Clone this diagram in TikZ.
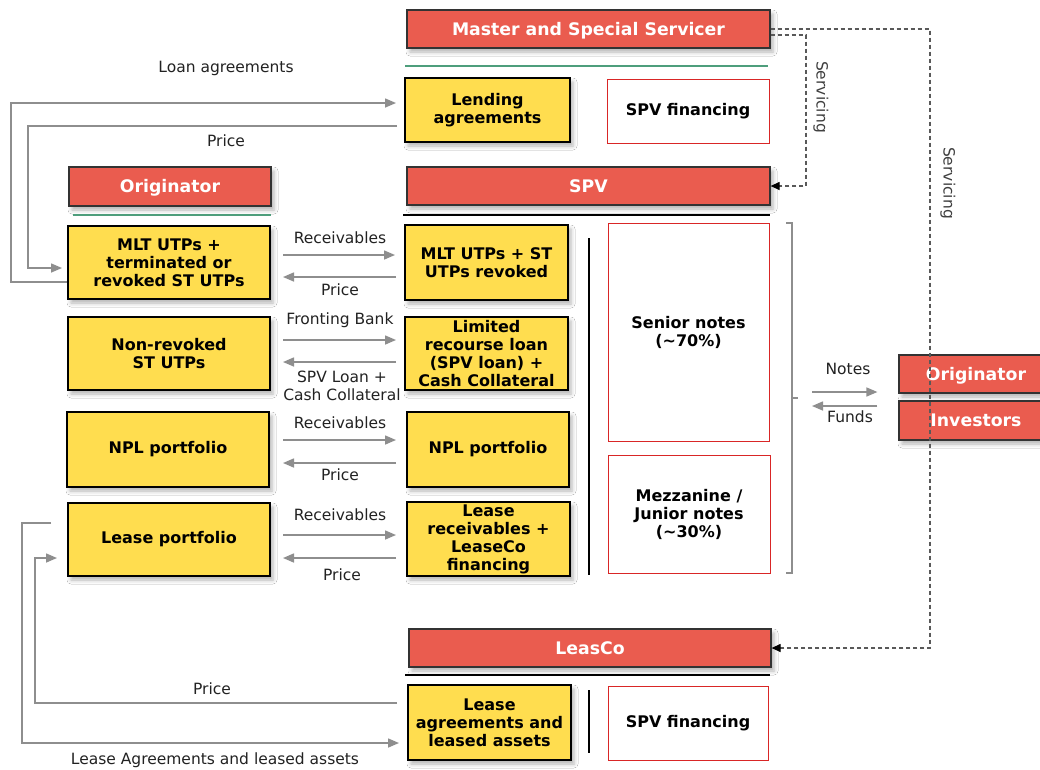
\documentclass[tikz,border=0pt]{standalone}
\usepackage{fontspec}
\setmainfont{DejaVu Sans}
\usetikzlibrary{arrows.meta,calc,shadows.blur}
\definecolor{rd}{HTML}{EA5C4F}
\definecolor{yl}{HTML}{FFDD4F}
\definecolor{gr}{HTML}{8E8E8E}
\definecolor{gn}{HTML}{4E9E7C}
\definecolor{bred}{HTML}{D92626}
\definecolor{txt}{HTML}{222222}
\tikzset{
 shd/.style={blur shadow={shadow xshift=3pt,shadow yshift=-4pt,shadow blur radius=4pt,shadow opacity=30}},
 rbox/.style={shd,fill=rd,draw=black!80,line width=1.2pt,text=white,font=\fontsize{17.3}{19}\selectfont\bfseries,inner sep=0pt,text height=12.6pt,text depth=0pt},
 ybox/.style={shd,fill=yl,draw=black,line width=2pt,text=black,font=\fontsize{16}{18}\selectfont\bfseries,align=center,inner sep=1pt},
 wbox/.style={fill=white,draw=bred,line width=1pt,text=black,font=\fontsize{16}{18}\selectfont\bfseries,align=center,inner sep=1pt},
 lbl/.style={text=txt,font=\fontsize{15.5}{18}\selectfont,inner sep=0pt,align=center},
 garr/.style={draw=gr,line width=1.5pt,-{Triangle[length=11pt,width=9pt]}},
 gline/.style={draw=gr,line width=1.2pt},
 dsh/.style={draw=black!65,line width=1.2pt,dash pattern=on 4pt off 3pt},
 dsharr/.style={dsh,-{Triangle[length=9pt,width=8pt,color=black]}},
}
\begin{document}
\begin{tikzpicture}[x=1pt,y=-1pt]
\useasboundingbox (0,0) rectangle (1040,769);
\fill[white] (0,0) rectangle (1040,769);

% red header boxes
\node[rbox,minimum width=363,minimum height=38] (mss) at (588.5,29) {Master and Special Servicer};
\node[rbox,minimum width=202,minimum height=39] (origL) at (170,186.5) {Originator};
\node[rbox,minimum width=363,minimum height=38] (spv) at (588.5,186) {SPV};
\node[rbox,minimum width=154,minimum height=38] (origR) at (976,374) {Originator};
\node[rbox,minimum width=154,minimum height=39] (inv) at (976,420.5) {Investors};
\node[rbox,minimum width=362,minimum height=38] (leasco) at (590,648) {LeasCo};

% separator lines
\draw[gn,line width=1.2pt] (405,66) -- (768,66);
\draw[gn,line width=1.2pt] (73,215) -- (271,215);
\draw[black,line width=2.5pt] (403,215) -- (770,215);
\draw[black,line width=2.5pt] (405,675) -- (770,675);
\draw[black,line width=2pt] (589,238) -- (589,575);
\draw[black,line width=2pt] (589,690) -- (589,753);

% yellow boxes
\node[ybox,minimum width=165,minimum height=64] (lend) at (487.5,110) {Lending\\agreements};
\node[ybox,minimum width=202,minimum height=73] (mltL) at (169,262.5) {MLT UTPs +\\terminated or\\revoked ST UTPs};
\node[ybox,minimum width=163,minimum height=75] (mltR) at (486.5,262.5) {MLT UTPs + ST\\UTPs revoked};
\node[ybox,minimum width=202,minimum height=73] (nonrev) at (169,353.5) {Non-revoked\\ST UTPs};
\node[ybox,minimum width=163,minimum height=73] (limrec) at (486.5,353.5) {Limited\\recourse loan\\(SPV loan) +\\Cash Collateral};
\node[ybox,minimum width=202,minimum height=75] (nplL) at (168,449.5) {NPL portfolio};
\node[ybox,minimum width=162,minimum height=75] (nplR) at (488,449.5) {NPL portfolio};
\node[ybox,minimum width=202,minimum height=73] (leaseL) at (169,539.5) {Lease portfolio};
\node[ybox,minimum width=163,minimum height=74] (leaseR) at (488.5,539) {Lease\\receivables +\\LeaseCo\\financing};
\node[ybox,minimum width=163,minimum height=75] (leaseAg) at (489.5,722.5) {Lease\\agreements and\\leased assets};

% white boxes
\node[wbox,minimum width=162,minimum height=64] (spvfin1) at (688,111) {SPV financing};
\node[wbox,minimum width=161,minimum height=218] (senior) at (688.5,332) {Senior notes\\(\textasciitilde70\%)};
\node[wbox,minimum width=162,minimum height=118] (mezz) at (689,514) {Mezzanine /\\Junior notes\\(\textasciitilde30\%)};
\node[wbox,minimum width=160,minimum height=74] (spvfin2) at (688,723) {SPV financing};

% top loops
\draw[garr] (mltL.west |- 0,282) -- (11,282) -- (11,103) -- ($(lend.west|-0,103)+(-8,0)$);
\node[lbl] (lLoan) at (226,68) {Loan agreements};
\draw[garr] ($(lend.west|-0,126)+(-7,0)$) -- (28,126) -- (28,268) -- ($(mltL.west|-0,268)+(-5,0)$);
\node[lbl] (lPrice0) at (226,141) {Price};

% row arrows
\draw[garr] ($(mltL.east|-0,255)+(12,0)$) -- ($(mltR.west|-0,255)+(-9,0)$);
\draw[garr] ($(mltR.west|-0,277)+(-8,0)$) -- ($(mltL.east|-0,277)+(12,0)$);
\node[lbl] (l1a) at (340,238) {Receivables};
\node[lbl] (l1b) at (340,290) {Price};

\draw[garr] ($(nonrev.east|-0,340)+(12,0)$) -- ($(limrec.west|-0,340)+(-8,0)$);
\draw[garr] ($(limrec.west|-0,362)+(-8,0)$) -- ($(nonrev.east|-0,362)+(12,0)$);
\node[lbl] (l2a) at (340,320) {Fronting Bank};
\node[lbl] (l2b) at (342,386) {SPV Loan +\\Cash Collateral};

\draw[garr] ($(nplL.east|-0,440)+(13,0)$) -- ($(nplR.west|-0,440)+(-10,0)$);
\draw[garr] ($(nplR.west|-0,463)+(-10,0)$) -- ($(nplL.east|-0,463)+(13,0)$);
\node[lbl] (l3a) at (340,423) {Receivables};
\node[lbl] (l3b) at (340,475) {Price};

\draw[garr] ($(leaseL.east|-0,535)+(12,0)$) -- ($(leaseR.west|-0,535)+(-10,0)$);
\draw[garr] ($(leaseR.west|-0,558)+(-10,0)$) -- ($(leaseL.east|-0,558)+(12,0)$);
\node[lbl] (l4a) at (340,515) {Receivables};
\node[lbl] (l4b) at (342,575) {Price};

% lease loops
\draw[garr] ($(leaseL.west|-0,523)+(-16,0)$) -- (22,523) -- (22,743) -- ($(leaseAg.west|-0,743)+(-8,0)$);
\node[lbl] (lLA) at (215,760) {Lease Agreements and leased assets};
\draw[garr] ($(leaseAg.west|-0,703)+(-10,0)$) -- (35,703) -- (35,558) -- ($(leaseL.west|-0,558)+(-10,0)$);
\node[lbl] (lPrice5) at (212,689) {Price};

% bracket and notes/funds
\draw[gline] (786,223) -- (792,223) -- (792,573) -- (786,573);
\draw[gline] (792,398) -- (798,398);
\coordinate (brk) at (798,398);
\draw[garr] ($(brk)+(14,-6)$) -- ($(origR.west|-0,392)+(-21,0)$);
\draw[garr] ($(origR.west|-0,406)+(-21,0)$) -- ($(brk)+(14,8)$);
\node[lbl] (lNotes) at (848,369) {Notes};
\node[lbl] (lFunds) at (850,417) {Funds};

% servicing dashed
\draw[dsharr] (mss.east) -- (930,29) -- (930,648) -- (leasco.east);
\draw[dsharr] ($(mss.east)+(0,6)$) -- (806,35) -- (806,186) -- (spv.east);
\node[lbl,text=black!75,rotate=-90] (serv1) at (821,97) {Servicing};
\node[lbl,text=black!75,rotate=-90] (serv2) at (948,183) {Servicing};
\end{tikzpicture}
\end{document}
